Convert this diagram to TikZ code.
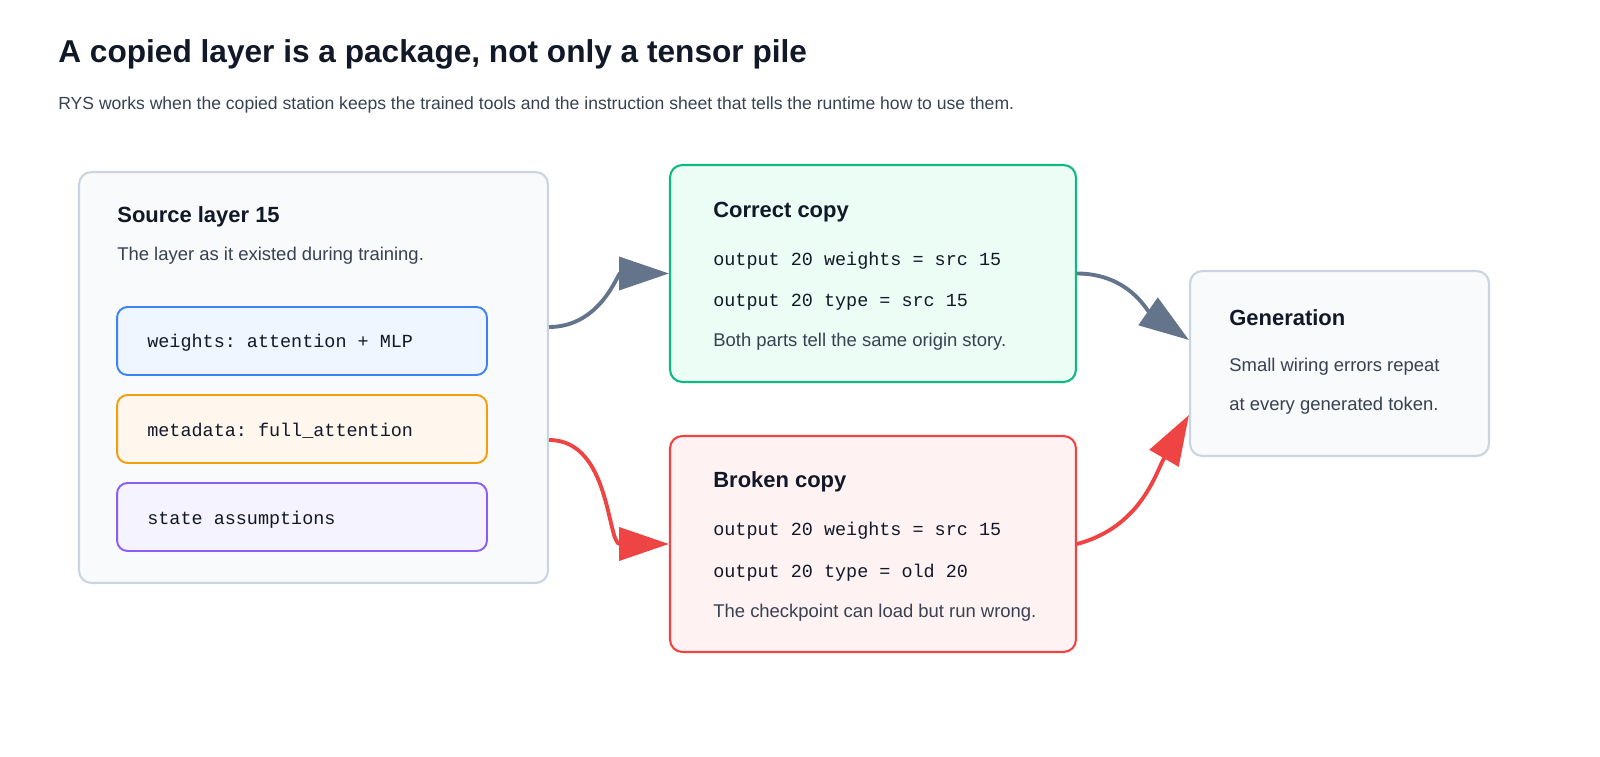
\documentclass[tikz,border=0pt]{standalone}
\usepackage{fontspec}
\setmainfont{Liberation Sans}
\setmonofont{Liberation Mono}
\usetikzlibrary{arrows.meta}
\definecolor{slateline}{HTML}{CBD5E1}
\definecolor{slatefill}{HTML}{F8FAFC}
\definecolor{slatearrow}{HTML}{64748B}
\definecolor{inktitle}{HTML}{111827}
\definecolor{inktext}{HTML}{374151}
\definecolor{redline}{HTML}{EF4444}
\definecolor{redfill}{HTML}{FEF2F2}
\definecolor{greenline}{HTML}{10B981}
\definecolor{greenfill}{HTML}{ECFDF5}
\definecolor{blueline}{HTML}{3B82F6}
\definecolor{bluefill}{HTML}{EFF6FF}
\definecolor{amberline}{HTML}{F59E0B}
\definecolor{amberfill}{HTML}{FFF7ED}
\definecolor{violetline}{HTML}{8B5CF6}
\definecolor{violetfill}{HTML}{F5F3FF}
\tikzstyle{card} = [rectangle, rounded corners=7pt, line width=1.2pt, inner sep=0pt]
\tikzstyle{chip} = [rectangle, rounded corners=6pt, line width=1.1pt, minimum width=7.4cm, minimum height=1.36cm, inner sep=0pt]
\tikzstyle{head} = [anchor=west, inner sep=0pt, font=\fontsize{12.5}{14}\selectfont\bfseries, text=inktitle]
\tikzstyle{body} = [anchor=west, inner sep=0pt, font=\fontsize{10.5}{12}\selectfont, text=inktext]
\tikzstyle{code} = [anchor=west, inner sep=0pt, font=\fontsize{10.5}{12}\selectfont\ttfamily, text=inktitle]
\tikzstyle{arrow} = [line width=2.2pt, -{Triangle[length=1cm, width=0.66cm]}]

\begin{document}
\begin{tikzpicture}[x=0.02cm, y=-0.02cm]
\useasboundingbox (0,0) rectangle (1600,757);

% header
\node (title) [anchor=west, inner sep=0pt, font=\fontsize{18}{20}\selectfont\bfseries, text=inktitle] at (58,54) {A copied layer is a package, not only a tensor pile};
\node (subtitle) [body, font=\fontsize{10}{12}\selectfont] at (58,105) {RYS works when the copied station keeps the trained tools and the instruction sheet that tells the runtime how to use them.};

% boxes
\node (src) [card, draw=slateline, fill=slatefill, minimum width=9.38cm, minimum height=8.22cm] at (313.5,377.5) {};
\node (weights) [chip, draw=blueline, fill=bluefill] at (302,341) {};
\node (meta) [chip, draw=amberline, fill=amberfill] at (302,429) {};
\node (state) [chip, draw=violetline, fill=violetfill] at (302,517) {};
\node (correct) [card, draw=greenline, fill=greenfill, minimum width=8.12cm, minimum height=4.34cm] at (873,273.5) {};
\node (broken) [card, draw=redline, fill=redfill, minimum width=8.12cm, minimum height=4.32cm] at (873,544) {};
\node (gen) [card, draw=slateline, fill=slatefill, minimum width=5.98cm, minimum height=3.7cm] at (1339.5,363.5) {};

% texts
\node (srctitle) [head] at (117,217) {Source layer 15};
\node (srcnote) [body] at (117,256) {The layer as it existed during training.};
\node (wtext) [code] at (147,343) {weights: attention + MLP};
\node (mtext) [code] at (147,431) {metadata: full\_attention};
\node (stext) [code] at (147,520) {state assumptions};
\node (ctitle) [head] at (713,212) {Correct copy};
\node (cline1) [code] at (713,261) {output 20 weights = src 15};
\node (cline2) [code] at (713,302) {output 20 type = src 15};
\node (cnote) [body] at (713,342) {Both parts tell the same origin story.};
\node (btitle) [head] at (713,482) {Broken copy};
\node (bline1) [code] at (713,531) {output 20 weights = src 15};
\node (bline2) [code] at (713,573) {output 20 type = old 20};
\node (bnote) [body] at (713,613) {The checkpoint can load but run wrong.};
\node (gtitle) [head] at (1229,318) {Generation};
\node (gline1) [body] at (1229,367) {Small wiring errors repeat};
\node (gline2) [body] at (1229,406) {at every generated token.};

% connectors
\draw [arrow, slatearrow] ([yshift=1.01cm]src.east) to[out=0, in=180] (correct.west);
\draw [arrow, redline] ([yshift=-1.25cm]src.east) to[out=0, in=180] (broken.west);
\draw [arrow, slatearrow] (correct.east) to[out=0, in=145] ([yshift=0.47cm]gen.west);
\draw [arrow, redline] (broken.east) to[out=15, in=240] ([yshift=-1.03cm]gen.west);

\end{tikzpicture}
\end{document}
